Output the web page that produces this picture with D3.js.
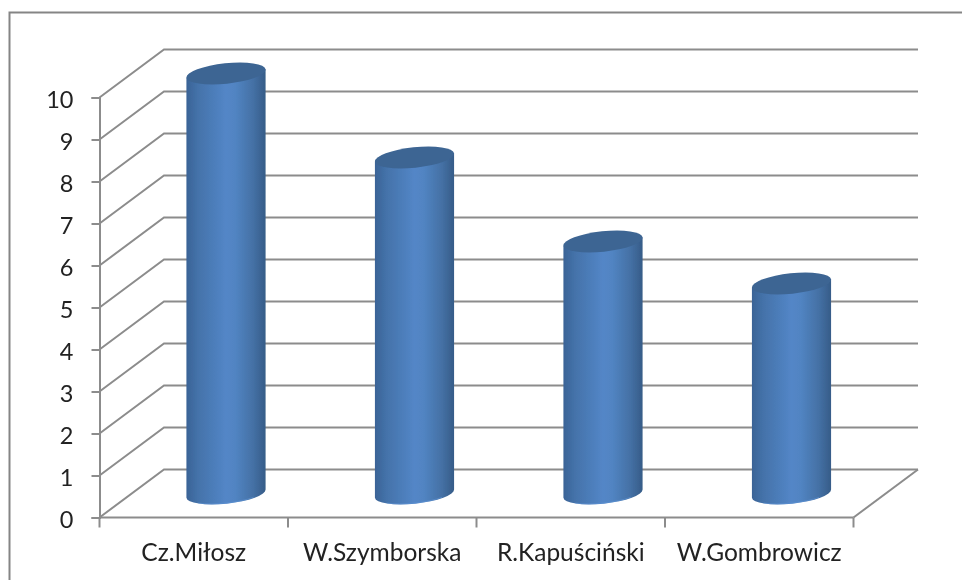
<!DOCTYPE html>
<html><head><meta charset="utf-8">
<style>html,body{margin:0;padding:0;background:#fff}svg{display:block}</style>
<script src="https://cdn.jsdelivr.net/npm/d3@7"></script></head>
<body><svg id="c" width="962" height="580"></svg>
<script>
const categories = ["Cz.Miłosz","W.Szymborska","R.Kapuściński","W.Gombrowicz"];
const values = [10,8,6,5];
const yTicks = [0,1,2,3,4,5,6,7,8,9,10];

(function(){
const svg = d3.select("#c");
const defs = svg.append("defs");
defs.append("filter").attr("id","soft").attr("filterUnits","userSpaceOnUse").attr("x",0).attr("y",0).attr("width",962).attr("height",580)
  .append("feGaussianBlur").attr("stdDeviation",0.6);
const grad = defs.append("linearGradient").attr("id","cyl").attr("x1",0).attr("x2",1).attr("y1",0).attr("y2",0);
[[0,"#3a6396"],[0.14,"#4472a9"],[0.5,"#5386c7"],[0.62,"#5184c2"],[0.85,"#4470a4"],[1,"#365c88"]]
  .forEach(([o,c])=>grad.append("stop").attr("offset",o).attr("stop-color",c));

const root = svg.append("g").attr("filter","url(#soft)");
const left=99.5,right=853.5,bottom=517.5,topY=97.5,dx=64.5,dy=-48;
const x = d3.scaleBand().domain(categories).range([left,right]);
const y = d3.scaleLinear().domain([0,10]).range([bottom,topY]);
const grey="#8c8c8c";

root.append("path").attr("d","M9.5 580V12.5H962").attr("fill","none").attr("stroke","#858585").attr("stroke-width",2);

root.selectAll("path.grid").data(yTicks).join("path").attr("class","grid")
  .attr("fill","none").attr("stroke",grey).attr("stroke-width",2)
  .attr("d",v=>`M${left} ${y(v)}L${left+dx} ${y(v)+dy}H${right+dx}`);
root.append("path").attr("fill","none").attr("stroke",grey).attr("stroke-width",2)
  .attr("d",`M${right} ${bottom}L${right+dx} ${bottom+dy}`);

const axisY = d3.axisLeft(y).tickValues(yTicks).tickSize(8).tickPadding(18).tickFormat(d3.format("d"));
const gy = root.append("g").attr("transform",`translate(${left},0)`).call(axisY);
const axisX = d3.axisBottom(x).tickSize(0).tickPadding(0);
const gx = root.append("g").attr("transform",`translate(0,${bottom})`).call(axisX);
gx.select(".domain").attr("d",`M${left} 0H${right}`);
gx.selectAll(".tick line").remove();
gx.selectAll(".tick text").attr("dy",null).attr("y",43);
root.selectAll("line.xt").data([...categories.map(c=>x(c)),right]).join("line").attr("class","xt")
  .attr("x1",d=>d).attr("x2",d=>d).attr("y1",bottom).attr("y2",bottom+10).attr("stroke",grey).attr("stroke-width",2);
[gy,gx].forEach(g=>{
  g.selectAll(".domain,.tick line").attr("stroke",grey).attr("stroke-width",2);
  g.selectAll("text").attr("fill","#222").style("font-family","Lato, 'Open Sans', sans-serif");
  g.attr("font-family",null).attr("font-size",null);
});
gx.selectAll("text").style("font-size","24.5px");
gy.selectAll("text").style("font-size","23.5px").attr("dy","0.42em");

const rx=39.8, ry=10.2, ang=-6, rad=ang*Math.PI/180;
const mx=rx*Math.cos(rad), my=rx*Math.sin(rad);
const cx=c=>x(c)+x.bandwidth()/2+dx/2;
const bars=root.selectAll("g.bar").data(categories.map((c,i)=>({c,v:values[i]}))).join("g").attr("class","bar");
bars.append("path").attr("fill","url(#cyl)")
  .attr("d",d=>{const X=cx(d.c),T=y(d.v)+dy/2,B=y(0)+dy/2;
    return `M${X-mx} ${T-my}L${X-mx} ${B-my}A${rx} ${ry} ${ang} 0 0 ${X+mx} ${B+my}L${X+mx} ${T+my}Z`;});
bars.append("path").attr("fill","none").attr("stroke","#5f93d6").attr("stroke-width",1).attr("stroke-opacity",0.55)
  .attr("d",d=>{const X=cx(d.c),B=y(0)+dy/2-0.5;
    return `M${X-mx*0.7} ${B-my*0.7+ry*0.7}A${rx} ${ry} ${ang} 0 0 ${X+mx*0.7} ${B+my*0.7+ry*0.7}`;});
bars.append("ellipse").attr("fill","#3d6593")
  .attr("rx",rx).attr("ry",ry)
  .attr("transform",d=>`translate(${cx(d.c)},${y(d.v)+dy/2}) rotate(${ang})`);
})();
</script></body></html>
